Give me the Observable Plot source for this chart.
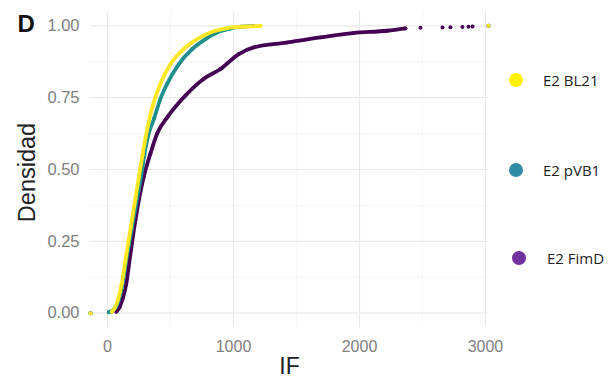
<!DOCTYPE html>
<html>
<head>
<meta charset="utf-8">
<script src="https://cdn.jsdelivr.net/npm/d3@7"></script>
<script src="https://cdn.jsdelivr.net/npm/@observablehq/plot@0.6"></script>
<style>
  body { margin: 0; background: #fff; }
  #wrap { position: relative; width: 614px; height: 385px; }
  .leg { position: absolute; font-family: "Open Sans", "Liberation Sans", sans-serif; font-size: 15px; color: #222; display: flex; align-items: center; }
  .leg span.dot { display: inline-block; width: 14px; height: 14px; border-radius: 50%; }
</style>
</head>
<body>
<div id="wrap"></div>
<script>
// ---- data ----
const seriesNames = ["E2 FimD", "E2 pVB1", "E2 BL21"];
const seriesColors = ["#440154", "#21908C", "#FDE725"];
const legendNames = ["E2 BL21", "E2 pVB1", "E2 FimD"];
const legendColors = ["#FFF200", "#2E8CA6", "#7030A0"];

const bl21X = [35, 60, 85, 112, 148, 185, 222, 249, 278, 302, 340, 421, 500, 605, 712, 817, 950, 1080, 1214];
const bl21Y = [0.005, 0.02, 0.05, 0.10, 0.20, 0.30, 0.40, 0.475, 0.55, 0.61, 0.69, 0.80, 0.867, 0.92, 0.954, 0.977, 0.992, 0.997, 1.00];

const pvb1X = [10, 65, 92, 118, 155, 195, 235, 267, 292, 320, 370, 415, 473, 566, 672, 778, 870, 970, 1060, 1160];
const pvb1Y = [0.003, 0.02, 0.05, 0.10, 0.20, 0.30, 0.40, 0.475, 0.55, 0.613, 0.678, 0.74, 0.798, 0.867, 0.919, 0.954, 0.977, 0.99, 0.997, 1.00];

const fimdX = [70, 95, 120, 148, 180, 222, 288, 341, 394, 480, 620, 765, 897, 1042, 1160, 1420, 1690, 1950, 2220, 2365];
const fimdY = [0.005, 0.02, 0.05, 0.10, 0.20, 0.325, 0.475, 0.556, 0.625, 0.685, 0.758, 0.816, 0.85, 0.902, 0.925, 0.942, 0.96, 0.975, 0.983, 0.991];
const fimdTailX = [2484, 2659, 2722, 2817, 2865, 2897];
const fimdTailY = [0.993, 0.994, 0.995, 0.996, 0.997, 0.998];

const xDomain = [-135, 3024];   // ecdf padding reaches -Inf / +Inf
const yDomain = [-0.05, 1.05];
const xTicks = [0, 1000, 2000, 3000];
const xMinor = [500, 1500, 2500];
const yTicks = [0, 0.25, 0.5, 0.75, 1];
const yMinor = [0.125, 0.375, 0.625, 0.875];

// ---- build tables ----
const toRows = (name, xs, ys) => xs.map((x, i) => ({s: name, x, y: ys[i]}));
const curves = [
  toRows("E2 FimD", fimdX, fimdY),
  toRows("E2 pVB1", pvb1X, pvb1Y),
  toRows("E2 BL21", bl21X, bl21Y)
];
const tail = toRows("E2 FimD", fimdTailX, fimdTailY);
const pads = seriesNames.flatMap(s => [{s, x: xDomain[0], y: 0}, {s, x: xDomain[1], y: 1}]);

const color = {domain: seriesNames, range: seriesColors};

const marks = [
  Plot.ruleX(xMinor, {stroke: "#f2f2f2", strokeWidth: 0.7}),
  Plot.ruleY(yMinor, {stroke: "#f2f2f2", strokeWidth: 0.7}),
  Plot.ruleX(xTicks, {stroke: "#e8e8e8", strokeWidth: 1.2}),
  Plot.ruleY(yTicks, {stroke: "#e8e8e8", strokeWidth: 1.2}),
  Plot.axisX({ticks: xTicks, tickSize: 0, tickPadding: 13, fontSize: 16, fill: "#808080", tickFormat: d3.format("d"), label: null}),
  Plot.axisY({ticks: yTicks, tickSize: 0, tickPadding: 11, fontSize: 16.5, fill: "#808080", tickFormat: d3.format(".2f"), label: null}),
];
curves.forEach(rows => {
  marks.push(Plot.line(rows, {x: "x", y: "y", stroke: "s", strokeWidth: 3.8, curve: "monotone-x"}));
  marks.push(Plot.dot(rows, {x: "x", y: "y", fill: "s", r: 1.9}));
});
marks.push(Plot.dot(tail, {x: "x", y: "y", fill: "s", r: 2}));
marks.push(Plot.dot(pads, {x: "x", y: "y", fill: "s", r: 2}));
marks.push(Plot.text(["Densidad"], {frameAnchor: "left", textAnchor: "middle", lineAnchor: "middle", rotate: -90, dx: -63, dy: 3, fontSize: 23.5, fill: "#222"}));
marks.push(Plot.text(["IF"], {frameAnchor: "bottom", textAnchor: "middle", lineAnchor: "middle", dy: 39, fontSize: 23, fill: "#222"}));
marks.push(Plot.text(["D"], {frameAnchor: "top-left", textAnchor: "start", lineAnchor: "middle", dx: -73, dy: 12.5, fontSize: 24, fontWeight: "bold", fill: "#111"}));

const chart = Plot.plot({
  width: 614,
  height: 385,
  marginLeft: 90,
  marginRight: 126,
  marginTop: 11,
  marginBottom: 58,
  style: {fontFamily: "Liberation Sans, Arial, sans-serif", background: "#fff"},
  x: {domain: xDomain},
  y: {domain: yDomain},
  color,
  marks
});
const wrap = document.getElementById("wrap");
wrap.appendChild(chart);

// ---- legend (HTML, positioned to the right) ----
const legendPos = [{left: 509, top: 73}, {left: 509, top: 163}, {left: 512, top: 251}];
const textGap = [20, 20, 21];
legendNames.forEach((n, i) => {
  const d = document.createElement("div");
  d.className = "leg";
  d.style.left = legendPos[i].left + "px";
  d.style.top = legendPos[i].top + "px";
  d.style.height = "14px";
  d.innerHTML = `<span class="dot" style="background:${legendColors[i]};margin-right:${textGap[i]}px"></span><span>${n}</span>`;
  wrap.appendChild(d);
});
</script>
</body>
</html>
